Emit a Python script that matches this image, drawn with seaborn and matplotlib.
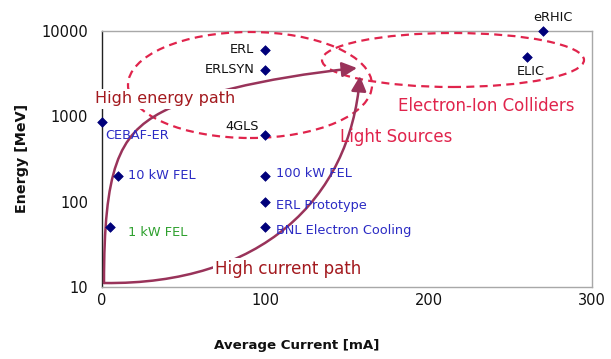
import matplotlib
matplotlib.use("Agg")
import matplotlib.pyplot as plt
import seaborn as sns
import pandas as pd
from matplotlib.patches import Ellipse, FancyArrowPatch
from matplotlib.path import Path
from matplotlib.ticker import NullLocator

# Accelerator facilities: average beam current vs. beam energy
machines = ["CEBAF-ER", "1 kW FEL", "10 kW FEL", "ERL", "ERLSYN", "4GLS",
            "100 kW FEL", "ERL Prototype", "BNL Electron Cooling", "ELIC", "eRHIC"]
current_ma = [0, 5, 10, 100, 100, 100, 100, 100, 100, 260, 270]
energy_mev = [850, 50, 200, 6000, 3500, 600, 200, 100, 50, 5000, 10000]

x_ticks = [0, 100, 200, 300]
y_ticks = [10, 100, 1000, 10000]
y_tick_labels = ["10", "100", "1000", "10000"]

# Label styling: (dx, dy) offset in points, alignment, colour
BLUE = "#2b2bc4"
BLACK = "#111111"
GREEN = "#2ea02e"
label_style = {
    "CEBAF-ER": ((2, -9.5), "left", BLUE),
    "1 kW FEL": ((13, -4), "left", GREEN),
    "10 kW FEL": ((7, 0), "left", BLUE),
    "ERL": ((-8, 0), "right", BLACK),
    "ERLSYN": ((-8, 0), "right", BLACK),
    "4GLS": ((-5, 6), "right", BLACK),
    "100 kW FEL": ((8, 2), "left", BLUE),
    "ERL Prototype": ((8, -3), "left", BLUE),
    "BNL Electron Cooling": ((8, -2), "left", BLUE),
    "ELIC": ((3, -11), "center", BLACK),
    "eRHIC": ((7, 10), "center", BLACK),
}

df = pd.DataFrame({"machine": machines, "current": current_ma, "energy": energy_mev})

sns.set_theme(style="white")
plt.rcParams["font.family"] = ["DejaVu Sans"]

W, H = 611, 359
fig = plt.figure(figsize=(W / 100, H / 100), dpi=100)
AX_L, AX_R, AX_T, AX_B = 102, 592, 31, 287
ax = fig.add_axes([AX_L / W, (H - AX_B) / H, (AX_R - AX_L) / W, (AX_B - AX_T) / H])


def frac(x, y):
    """Figure pixel position (from top-left) -> axes fraction."""
    return ((x - AX_L) / (AX_R - AX_L), (AX_B - y) / (AX_B - AX_T))


ax.set_yscale("log")
sns.scatterplot(data=df, x="current", y="energy", marker="D", s=24,
                color="#00007a", edgecolor="#00007a", linewidth=0.5,
                ax=ax, zorder=6, clip_on=False, legend=False)

ax.set_xlim(0, 300)
ax.set_ylim(10, 10000)
ax.set_xticks(x_ticks)
ax.set_yticks(y_ticks, labels=y_tick_labels)
ax.yaxis.set_minor_locator(NullLocator())

for name, cur, en in zip(machines, current_ma, energy_mev):
    (dx, dy), ha, col = label_style[name]
    ax.annotate(name, (cur, en), xytext=(dx, dy), textcoords="offset points",
                ha=ha, va="center", fontsize=9.3, color=col, zorder=7)

# Spines and ticks
for side in ["top", "right", "bottom"]:
    ax.spines[side].set_color("#a8a8a8")
    ax.spines[side].set_linewidth(1.0)
ax.spines["left"].set_color("#222222")
ax.spines["left"].set_linewidth(1.0)
ax.tick_params(axis="x", direction="out", length=4, width=1, color="#a8a8a8",
               pad=0.5, labelsize=10.5, labelcolor="#111111")
ax.tick_params(axis="y", direction="out", length=4, width=1, color="#222222",
               pad=6, labelsize=10.5, labelcolor="#111111")

ax.set_xlabel("Average Current [mA]", fontsize=9.6, fontweight="bold", color="#111111")
ax.set_ylabel("Energy [MeV]", fontsize=10.3, fontweight="bold", color="#111111")
ax.xaxis.set_label_coords(*frac(297, 345))
ax.xaxis.label.set_verticalalignment("center")
ax.yaxis.set_label_coords(*frac(22, 158))
ax.yaxis.label.set_verticalalignment("center")

# Regions: light sources and electron-ion colliders
CRIMSON = "#e0244c"
for (cx, cy), w, h in [((250, 85), 244, 106), ((453, 60), 262, 54)]:
    c = frac(cx, cy)
    e = Ellipse(c, w / (AX_R - AX_L), h / (AX_B - AX_T), transform=ax.transAxes,
                fill=False, edgecolor=CRIMSON, lw=1.6, linestyle=(0, (3.6, 2.4)),
                zorder=3, clip_on=False)
    ax.add_patch(e)

# Development paths (cubic Bezier segments, figure pixel positions)
PATH_COL = "#99335a"
paths = [
    [(104, 283), (104, 170), (118, 135), (162, 112), (190, 97), (260, 78), (357, 68)],
    [(104, 283), (260, 285), (350, 200), (360, 76)],
]
for pts in paths:
    verts = [frac(*p) for p in pts]
    codes = [Path.MOVETO] + [Path.CURVE4] * (len(pts) - 1)
    pth = Path(verts, codes)
    arr = FancyArrowPatch(path=pth, arrowstyle="-|>,head_length=0.5,head_width=0.25",
                          mutation_scale=18, color=PATH_COL, lw=1.8,
                          transform=ax.transAxes, zorder=4, clip_on=False)
    ax.add_patch(arr)

DARKRED = "#a3191e"
box = dict(facecolor="white", edgecolor="none", pad=1.5)
ax.text(*frac(95, 99), "High energy path", transform=ax.transAxes, ha="left",
        va="center", fontsize=11.5, color=DARKRED, zorder=5, bbox=box)
ax.text(*frac(215, 269), "High current path", transform=ax.transAxes, ha="left",
        va="center", fontsize=12, color=DARKRED, zorder=5, bbox=box)
ax.text(*frac(340, 137), "Light Sources", transform=ax.transAxes, ha="left",
        va="center", fontsize=12, color=CRIMSON, zorder=5)
ax.text(*frac(398, 106), "Electron-Ion Colliders", transform=ax.transAxes, ha="left",
        va="center", fontsize=12, color=CRIMSON, zorder=5)

fig.savefig("out.png", dpi=100, facecolor="white")
